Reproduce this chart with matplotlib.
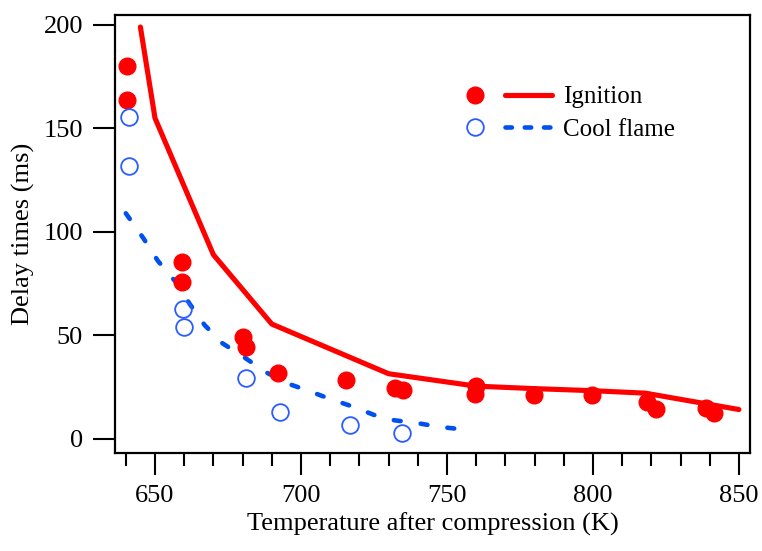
import numpy as np
import matplotlib
matplotlib.use('Agg')
import matplotlib.pyplot as plt
from matplotlib.lines import Line2D
from matplotlib.legend_handler import HandlerTuple

plt.rcParams['font.family'] = ['Liberation Serif', 'DejaVu Serif']

#measured ignition delay (filled red dots)
ign_T = [640.3, 640.3, 659.4, 659.4, 680.2, 681.2, 692.2, 715.3, 732.2, 735.0,
         760.0, 759.6, 779.8, 799.8, 818.6, 821.6, 838.6, 841.5]
ign_t = [180.3, 163.7, 85.7, 75.7, 49.4, 44.6, 31.8, 28.6, 24.6, 23.6,
         25.7, 21.8, 21.3, 21.2, 17.6, 14.4, 14.7, 12.7]

#measured cool flame delay (open blue circles)
cf_T = [641.1, 641.1, 659.7, 660.0, 681.1, 692.8, 716.8, 734.7]
cf_t = [155.6, 131.7, 62.8, 53.9, 29.2, 13.1, 6.6, 2.8]

#model curves
ign_line_T = [645, 650, 670, 690, 730, 760, 780, 800, 818, 850]
ign_line_t = [199, 155, 89, 55.5, 31.5, 25.5, 24.3, 23.3, 22.1, 14.2]

cf_line_T = [640, 646, 651, 657, 662, 667, 673, 681, 688, 696, 703, 710, 718, 725, 732, 740, 747, 756]
cf_line_t = [109, 97, 86, 76, 65, 55, 46.3, 39, 32.2, 26.5, 23, 19.3, 15.5, 11.6, 9, 7.6, 5.9, 4.5]

red = '#ff0000'
blue = '#0050f0'
blue_c = '#2a5cff'

fig = plt.figure(figsize=(7.62, 5.51), dpi=100)
ax = fig.add_axes([115/762, 1-453/551, 635/762, 438/551])

ax.plot(ign_line_T, ign_line_t, color=red, lw=3.7, solid_capstyle='round', solid_joinstyle='round')
ax.plot(cf_line_T, cf_line_t, color=blue, lw=3.3, ls=(0, (1.5, 4.4)), dash_capstyle='round')
ax.plot(ign_T, ign_t, 'o', color=red, ms=12, mec=red, ls='none')
ax.plot(cf_T, cf_t, 'o', mfc='none', mec=blue_c, ms=12, mew=1.3, ls='none')

ax.set_xlim(636.3, 853.8)
ax.set_ylim(-6.8, 204.8)
ax.set_xticks([650, 700, 750, 800, 850])
ax.set_xticks(np.arange(640, 851, 10), minor=True)
ax.set_yticks([0, 50, 100, 150, 200])

ax.tick_params(which='major', direction='out', length=16, width=1.5, labelsize=19, pad=7)
ax.tick_params(which='minor', direction='out', length=9, width=1.5)
ax.tick_params(axis='y', which='minor', length=0)
for s in ax.spines.values():
    s.set_linewidth(1.6)

ax.set_xlabel('Temperature after compression (K)', fontsize=19, labelpad=4)
ax.set_ylabel('Delay times (ms)', fontsize=19, labelpad=6)

h_ign = (Line2D([], [], marker='o', color=red, ms=12, ls='none'),
         Line2D([], [], color=red, lw=3.7, solid_capstyle='round'))
h_cf = (Line2D([], [], marker='o', mfc='none', mec=blue_c, ms=12, mew=1.3, ls='none'),
        Line2D([], [], color=blue, lw=3.3, ls=(0, (1.4, 2.8)), dash_capstyle='round'))
ax.legend([h_ign, h_cf], ['Ignition', 'Cool flame'],
          handler_map={tuple: HandlerTuple(ndivide=2, pad=0.26)},
          loc='upper left', bbox_to_anchor=(0.53, 0.838), frameon=False,
          fontsize=18, handlelength=4.0, handletextpad=0.45, labelspacing=0.4,
          borderpad=0, borderaxespad=0)

fig.savefig('out.png', dpi=100)
